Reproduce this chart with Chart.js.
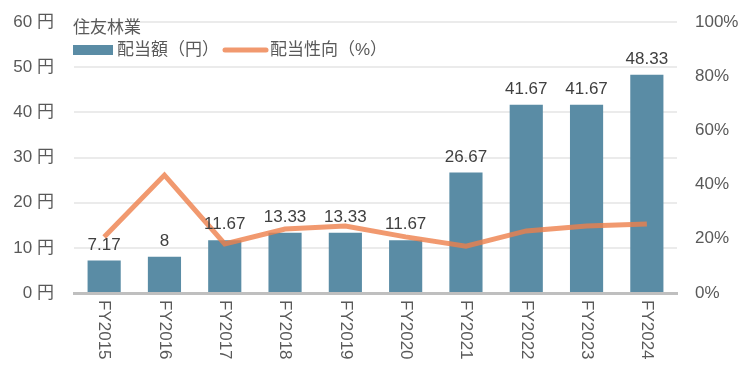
<!DOCTYPE html>
<html>
<head>
<meta charset="utf-8">
<script src="https://cdn.jsdelivr.net/npm/chart.js@4.4.1/dist/chart.umd.min.js"></script>
<style>
  html, body { margin: 0; padding: 0; background: #fff; }
  #wrap { width: 750px; height: 377px; }
</style>
</head>
<body>
<div id="wrap"><canvas id="chart"></canvas></div>
<script>
// データ
const title = "住友林業";
const years = ["FY2015", "FY2016", "FY2017", "FY2018", "FY2019", "FY2020", "FY2021", "FY2022", "FY2023", "FY2024"];
const dividend = [7.17, 8, 11.67, 13.33, 13.33, 11.67, 26.67, 41.67, 41.67, 48.33];
const payoutRatio = [20.7, 43.5, 18.1, 23.6, 24.7, 20.7, 17.3, 22.9, 24.7, 25.5];
const labelDividend = "配当額（円）";
const labelPayout = "配当性向（%）";

const FONT = "'Liberation Sans', 'Noto Sans CJK JP', sans-serif";
const barColor = "#5a8ca5";
const lineColor = "rgba(238,128,75,0.8)";
const textColor = "#595959";

// 棒の上の数値・凡例・X軸ラベル・タイトルを描く
const extras = {
  id: "extras",
  afterDatasetsDraw(chart) {
    const ctx = chart.ctx;
    const area = chart.chartArea;
    const bars = chart.getDatasetMeta(0).data;
    ctx.save();
    ctx.font = "17px " + FONT;
    ctx.fillStyle = "#404040";
    ctx.textAlign = "center";
    ctx.textBaseline = "bottom";
    bars.forEach((b, i) => {
      ctx.fillText(String(dividend[i]), b.x, b.y - 7);
    });

    // X軸ラベル（時計回り90度）
    const xs = chart.scales.x;
    ctx.fillStyle = textColor;
    ctx.textAlign = "left";
    ctx.textBaseline = "middle";
    years.forEach((y, i) => {
      const x = xs.getPixelForTick(i);
      ctx.save();
      ctx.translate(x, area.bottom + 7);
      ctx.rotate(Math.PI / 2);
      ctx.fillText(y, 0, 0);
      ctx.restore();
    });

    // タイトル
    ctx.font = "17px " + FONT;
    ctx.textBaseline = "middle";
    ctx.fillText(title, 73, 28);

    // 凡例
    ctx.fillStyle = barColor;
    ctx.fillRect(73, 45, 40, 10);
    ctx.fillStyle = textColor;
    ctx.fillText(labelDividend, 117, 50);
    ctx.strokeStyle = lineColor;
    ctx.lineWidth = 5;
    ctx.lineCap = "round";
    ctx.beginPath();
    ctx.moveTo(225, 50);
    ctx.lineTo(266, 50);
    ctx.stroke();
    ctx.fillText(labelPayout, 270, 50);
    ctx.restore();
  }
};

function noPad(scale, w) {
  scale.width = w;
  scale.paddingTop = 0;
  scale.paddingBottom = 0;
}

new Chart(document.getElementById("chart"), {
  type: "bar",
  data: {
    labels: years,
    datasets: [
      {
        type: "bar",
        label: labelDividend,
        data: dividend,
        backgroundColor: barColor,
        barPercentage: 0.55,
        categoryPercentage: 1,
        yAxisID: "y",
        order: 2
      },
      {
        type: "line",
        label: labelPayout,
        data: payoutRatio,
        borderColor: lineColor,
        borderWidth: 5,
        pointRadius: 0,
        tension: 0,
        yAxisID: "y1",
        order: 1
      }
    ]
  },
  options: {
    responsive: true,
    maintainAspectRatio: false,
    animation: false,
    layout: { padding: { top: 22, bottom: 0, left: 0, right: 0 } },
    plugins: {
      legend: { display: false },
      tooltip: { enabled: false }
    },
    scales: {
      x: {
        grid: { display: false, drawTicks: false },
        border: { color: "#bfbfbf", width: 3 },
        ticks: { display: false },
        afterFit(scale) {
          scale.height = 84;
          scale.paddingLeft = 0;
          scale.paddingRight = 0;
        }
      },
      y: {
        position: "left",
        min: 0,
        max: 60,
        ticks: {
          stepSize: 10,
          padding: 20,
          color: textColor,
          font: { family: FONT, size: 17 },
          callback: v => v + " 円"
        },
        grid: { color: "#ebebeb", lineWidth: 2, drawTicks: false },
        border: { display: false },
        afterFit(scale) { noPad(scale, 74); }
      },
      y1: {
        position: "right",
        min: 0,
        max: 100,
        ticks: {
          stepSize: 20,
          padding: 18,
          color: textColor,
          font: { family: FONT, size: 17 },
          callback: v => v + "%"
        },
        grid: { display: false, drawTicks: false },
        border: { display: false },
        afterFit(scale) { noPad(scale, 73); }
      }
    }
  },
  plugins: [extras]
});
</script>
</body>
</html>
